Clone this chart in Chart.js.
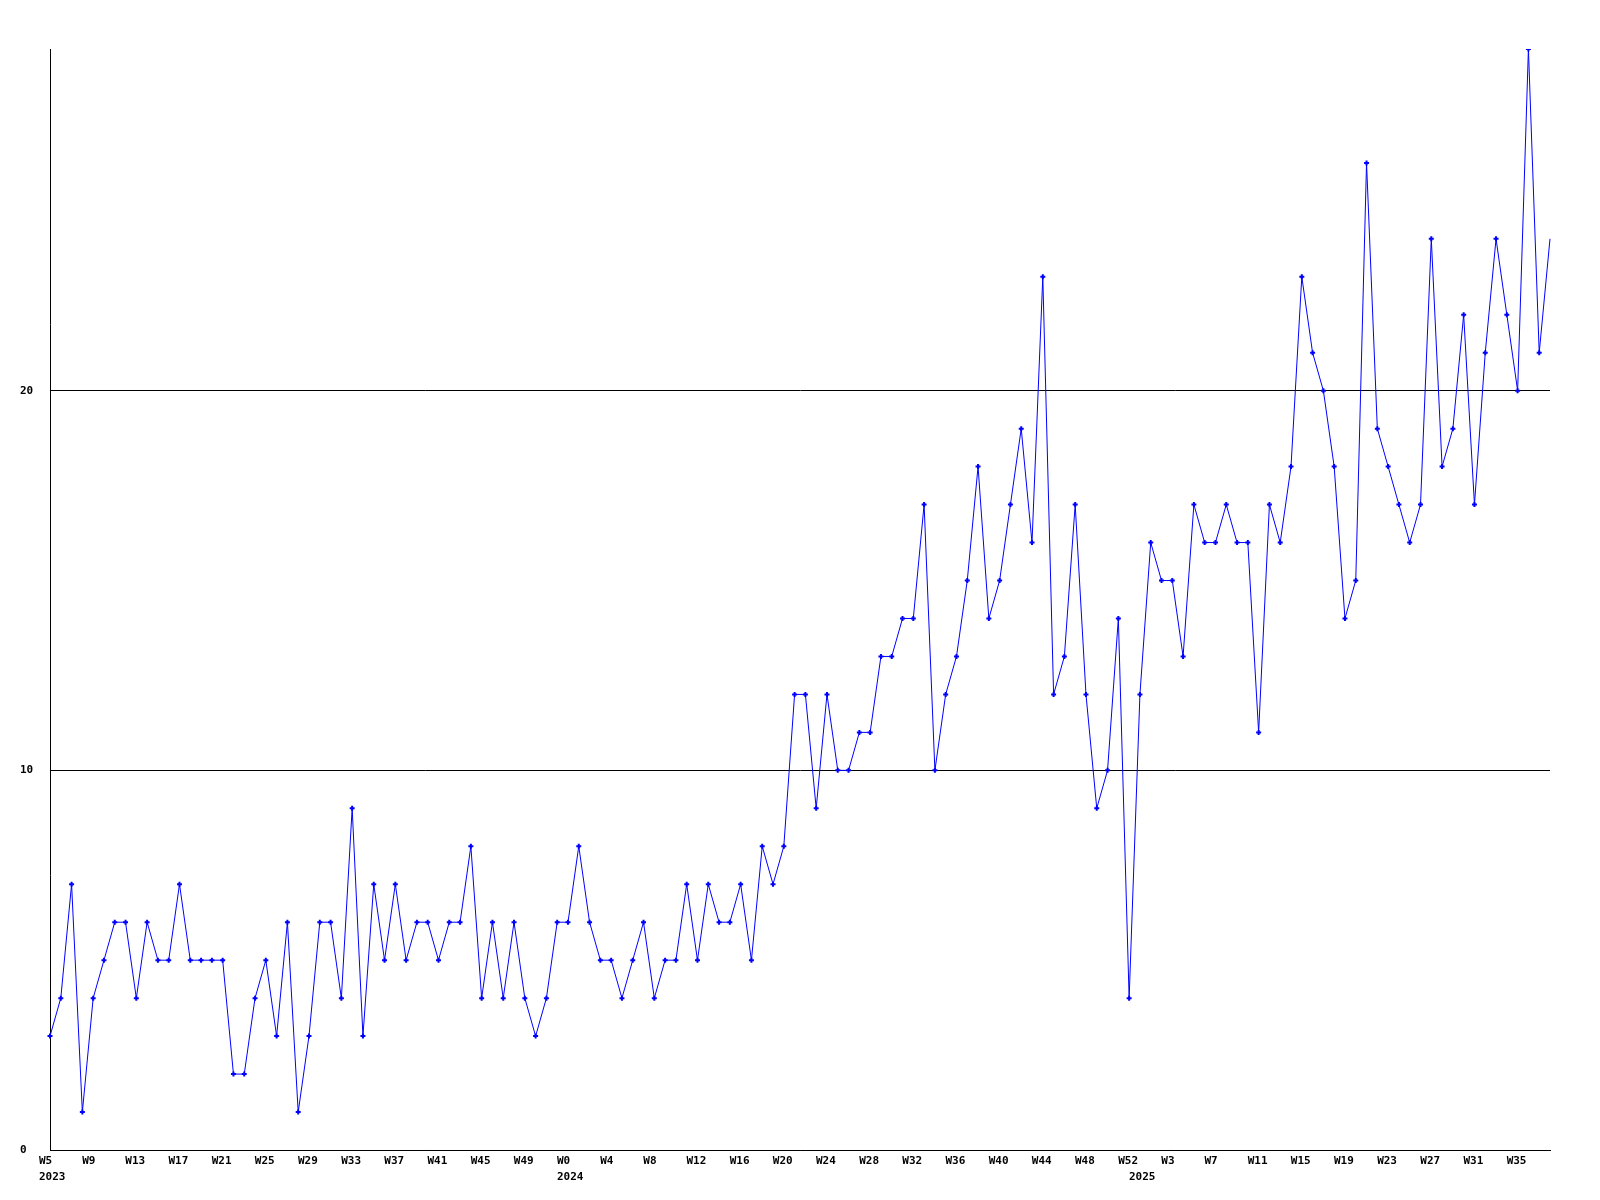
<!DOCTYPE html>
<html lang="en">
<head>
    <meta charset="UTF-8">
    <title>Weekly count</title>
    <script src="https://cdn.jsdelivr.net/npm/chart.js"></script>
    <style>
        body {
            margin: 0;
            background-color: #ffffff;
        }
        canvas {
            display: block;
        }
    </style>
</head>
<body>
    <canvas id="grafico" width="1600" height="1200"></canvas>

    <script>
        // Years shown on the x axis and the first week of each one
        const years = ['2023', '2024', '2025'];
        const firstWeek = [5, 0, 0];

        // Weekly values, one array per year
        const counts2023 = [3, 4, 7, 1, 4, 5, 6, 6, 4, 6, 5, 5, 7, 5, 5, 5, 5, 2, 2, 4,
                            5, 3, 6, 1, 3, 6, 6, 4, 9, 3, 7, 5, 7, 5, 6, 6, 5, 6, 6, 8,
                            4, 6, 4, 6, 4, 3, 4, 6];
        const counts2024 = [6, 8, 6, 5, 5, 4, 5, 6, 4, 5, 5, 7, 5, 7, 6, 6, 7, 5, 8, 7,
                            8, 12, 12, 9, 12, 10, 10, 11, 11, 13, 13, 14, 14, 17, 10, 12, 13, 15, 18, 14,
                            15, 17, 19, 16, 23, 12, 13, 17, 12, 9, 10, 14, 4];
        const counts2025 = [12, 16, 15, 15, 13, 17, 16, 16, 17, 16, 16, 11, 17, 16, 18, 23, 21, 20, 18, 14,
                            15, 26, 19, 18, 17, 16, 17, 24, 18, 19, 22, 17, 21, 24, 22, 20, 29, 21, 24];

        // Y axis tick values
        const yTicks = [0, 10, 20];

        // Build the category list (week + year) from the arrays above
        const seriesByYear = [counts2023, counts2024, counts2025];
        const weeks = [];
        const weekYears = [];
        const values = [];
        seriesByYear.forEach((serie, y) => {
            serie.forEach((v, i) => {
                weeks.push(firstWeek[y] + i);
                weekYears.push(years[y]);
                values.push(v);
            });
        });
        const labels = weeks.map((w, i) => weekYears[i] + '-W' + w);

        const fuente = { family: "'DejaVu Sans Mono', monospace", size: 11, weight: 'bold', lineHeight: 1.45 };

        new Chart(document.getElementById('grafico').getContext('2d'), {
            type: 'line',
            data: {
                labels: labels,
                datasets: [{
                    data: values,
                    borderColor: '#0000ff',
                    backgroundColor: '#0000ff',
                    borderWidth: 1,
                    tension: 0,
                    pointStyle: 'cross',
                    pointRadius: ctx => ctx.dataIndex === values.length - 1 ? 0 : 2.5,
                    pointBorderWidth: 2,
                    pointBorderColor: '#0000ff',
                    pointHoverRadius: 0
                }]
            },
            options: {
                responsive: false,
                animation: false,
                devicePixelRatio: 1,
                events: [],
                layout: {
                    padding: { top: 49, right: 50, left: 20, bottom: 0 }
                },
                plugins: {
                    legend: { display: false },
                    tooltip: { enabled: false }
                },
                scales: {
                    x: {
                        type: 'category',
                        offset: false,
                        grid: { display: false, drawTicks: false },
                        border: { display: true, color: '#000000', width: 1 },
                        afterFit: axis => { axis.height = 50; },
                        ticks: {
                            autoSkip: false,
                            maxRotation: 0,
                            minRotation: 0,
                            align: 'start',
                            labelOffset: -11,
                            padding: 3,
                            color: '#000000',
                            font: fuente,
                            callback: function (value, index) {
                                const showWeek = index % 4 === 0;
                                const newYear = index === 0 || weekYears[index] !== weekYears[index - 1];
                                const line1 = showWeek ? 'W' + weeks[index] : '';
                                if (newYear) return [line1, weekYears[index]];
                                return line1;
                            }
                        }
                    },
                    y: {
                        min: 0,
                        max: 29,
                        grid: { color: '#000000', lineWidth: 1, drawTicks: false },
                        border: { display: true, color: '#000000', width: 1 },
                        afterFit: axis => { axis.width = 30; },
                        afterBuildTicks: axis => { axis.ticks = yTicks.map(v => ({ value: v })); },
                        ticks: {
                            crossAlign: 'far',
                            padding: 0,
                            color: '#000000',
                            font: fuente
                        }
                    }
                }
            }
        });
    </script>
</body>
</html>
